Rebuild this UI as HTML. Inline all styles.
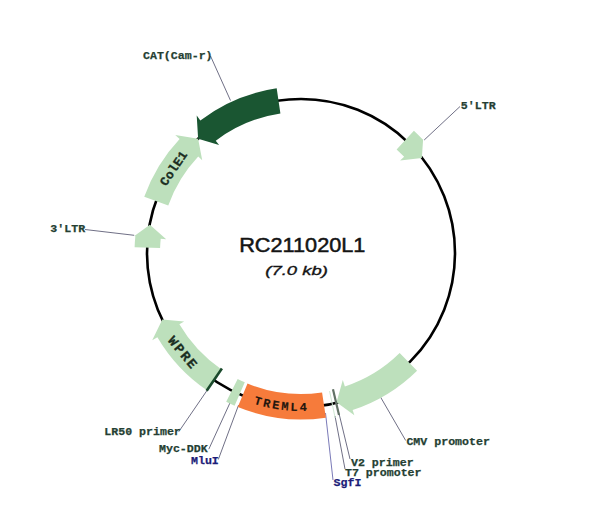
<!DOCTYPE html>
<html><head><meta charset="utf-8"><style>
html,body{margin:0;padding:0;background:#fff;}
svg{display:block;}
.lb{font-family:"Liberation Mono",monospace;font-weight:bold;font-size:11.6px;stroke:currentColor;stroke-width:0.25px;}
.ft{font-family:"Liberation Mono",monospace;font-weight:bold;fill:#1b2e22;stroke:#1b2e22;stroke-width:0.3px;}
.tt{font-family:"Liberation Sans",sans-serif;font-size:20px;fill:#141414;stroke:#141414;stroke-width:0.5px;}
.st{font-family:"Liberation Sans",sans-serif;font-style:italic;font-size:13.6px;fill:#141414;stroke:#141414;stroke-width:0.35px;}
</style></head><body>
<svg width="600" height="505" viewBox="0 0 600 505">
<line x1="210.50" y1="56.00" x2="230.50" y2="100.50" stroke="#707086" stroke-width="1"/>
<line x1="460.00" y1="106.50" x2="424.20" y2="140.00" stroke="#707086" stroke-width="1"/>
<line x1="85.00" y1="229.50" x2="134.20" y2="235.30" stroke="#707086" stroke-width="1"/>
<line x1="178.70" y1="431.80" x2="208.00" y2="389.00" stroke="#707086" stroke-width="1"/>
<line x1="208.80" y1="449.20" x2="230.20" y2="402.40" stroke="#707086" stroke-width="1"/>
<line x1="218.30" y1="459.50" x2="238.60" y2="405.00" stroke="#707086" stroke-width="1"/>
<line x1="405.70" y1="440.50" x2="380.50" y2="397.00" stroke="#707086" stroke-width="1"/>
<line x1="350.00" y1="459.00" x2="339.00" y2="413.50" stroke="#707086" stroke-width="1"/>
<line x1="345.00" y1="469.00" x2="335.00" y2="416.00" stroke="#707086" stroke-width="1"/>
<line x1="333.00" y1="480.00" x2="325.50" y2="413.00" stroke="#7a7ab8" stroke-width="1"/>
<circle cx="301.0" cy="253.0" r="154.0" fill="none" stroke="#000" stroke-width="2.6"/>
<path d="M280.40,113.51 L276.68,88.29 A166.50,166.50 0 0 0 200.33,120.38 L196.71,115.60 L198.12,138.74 L219.08,145.07 L215.75,140.69 A141.00,141.00 0 0 1 280.40,113.51 Z" fill="#1a5632"/>
<path d="M168.25,205.47 L144.25,196.87 A166.50,166.50 0 0 1 179.63,139.02 L175.25,134.92 L198.12,138.74 L202.22,160.24 L198.22,156.48 A141.00,141.00 0 0 0 168.25,205.47 Z" fill="#bde0bc"/>
<path d="M160.09,248.08 L134.60,247.19 A166.50,166.50 0 0 1 135.35,236.17 L134.36,236.07 L149.87,224.72 L166.19,239.31 L160.72,238.75 A141.00,141.00 0 0 0 160.09,248.08 Z" fill="#bde0bc"/>
<path d="M396.62,149.38 L413.91,130.64 A166.50,166.50 0 0 1 422.77,139.45 L423.14,139.11 L421.83,157.92 L400.10,160.59 L404.12,156.84 A141.00,141.00 0 0 0 396.62,149.38 Z" fill="#bde0bc"/>
<path d="M399.65,353.04 L417.07,370.70 A165.30,165.30 0 0 1 352.63,410.03 L354.35,415.26 L336.53,402.13 L342.79,380.11 L344.88,386.47 A140.50,140.50 0 0 0 399.65,353.04 Z" fill="#bde0bc"/>
<path d="M221.54,369.48 L207.17,390.55 A166.50,166.50 0 0 1 157.39,337.25 L152.22,340.29 L162.34,319.43 L184.13,321.57 L179.39,324.35 A141.00,141.00 0 0 0 221.54,369.48 Z" fill="#bde0bc"/>
<path d="M322.08,392.41 L325.90,417.63 A166.50,166.50 0 0 1 237.82,407.05 L247.50,383.45 A141.00,141.00 0 0 0 322.08,392.41 Z" fill="#f67b3b"/>
<path d="M244.78,382.31 L234.61,405.69 A166.50,166.50 0 0 1 226.19,401.75 L237.65,378.97 A141.00,141.00 0 0 0 244.78,382.31 Z" fill="#bde0bc"/>
<line x1="221.90" y1="368.52" x2="206.65" y2="390.79" stroke="#1a4a2c" stroke-width="2.6"/>
<line x1="332.97" y1="389.30" x2="339.02" y2="415.10" stroke="#627266" stroke-width="2.2"/>
<line x1="329.59" y1="391.07" x2="335.17" y2="418.00" stroke="#cfe8d3" stroke-width="1"/>
<text x="143.0" y="58.6" fill="#253f33" style="color:#253f33" class="lb">CAT(Cam-r)</text>
<text x="460.8" y="108.7" fill="#253f33" style="color:#253f33" class="lb">5&#39;LTR</text>
<text x="50.3" y="232.0" fill="#253f33" style="color:#253f33" class="lb">3&#39;LTR</text>
<text x="104.3" y="435.2" fill="#253f33" style="color:#253f33" class="lb">LR50 primer</text>
<text x="159.0" y="451.5" fill="#253f33" style="color:#253f33" class="lb">Myc-DDK</text>
<text x="191.0" y="464.0" fill="#1c1c78" style="color:#1c1c78" class="lb">MluI</text>
<text x="406.4" y="444.7" fill="#253f33" style="color:#253f33" class="lb">CMV promoter</text>
<text x="351.0" y="466.0" fill="#253f33" style="color:#253f33" class="lb">V2 primer</text>
<text x="345.0" y="476.0" fill="#253f33" style="color:#253f33" class="lb">T7 promoter</text>
<text x="333.6" y="486.4" fill="#1c1c78" style="color:#1c1c78" class="lb">SgfI</text>
<text x="0" y="0" transform="translate(174.51,168.90) rotate(-56.00)" text-anchor="middle" dominant-baseline="central" class="ft" style="font-size:12.6px;letter-spacing:0.3px">ColE1</text>
<text x="0" y="0" transform="translate(182.42,353.52) rotate(50.20)" text-anchor="middle" dominant-baseline="central" class="ft" style="font-size:13.5px;letter-spacing:1.6px">WPRE</text>
<defs><path id="trp" d="M210.37,382.43 A158.0,158.0 0 0 0 355.04,401.47"/></defs>
<text class="ft" style="font-size:12px;letter-spacing:2.2px;fill:#24160e;stroke:#24160e;stroke-width:0.15px"><textPath href="#trp" startOffset="76.39" text-anchor="middle">TREML4</textPath></text>
<text x="302.3" y="252.3" text-anchor="middle" class="tt" textLength="126.3" lengthAdjust="spacingAndGlyphs">RC211020L1</text>
<text x="296.6" y="274.6" text-anchor="middle" class="st" textLength="62.6" lengthAdjust="spacingAndGlyphs">(7.0 kb)</text>
</svg>
</body></html>
